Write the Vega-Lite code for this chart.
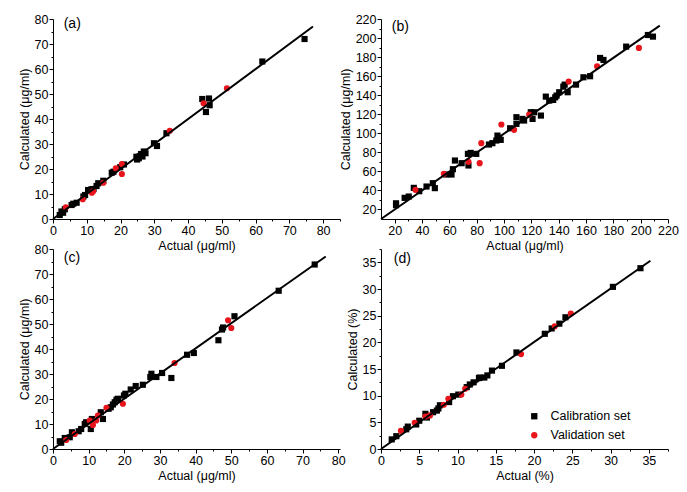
{
  "$schema": "https://vega.github.io/schema/vega-lite/v6.json",
  "padding": {"left": 18, "top": 13, "right": 5, "bottom": 5},
  "background": "white",
  "config": {
    "font": "Liberation Sans",
    "view": {"stroke": null},
    "axis": {
      "grid": false, "domainColor": "#000000", "tickColor": "#000000", "labelColor": "#000000",
      "titleColor": "#000000", "titleFontWeight": "normal", "titleFontSize": 12.5, "labelFontSize": 12.5,
      "tickSize": 4, "labelPadding": 1, "titlePadding": 3, "domainWidth": 1, "tickWidth": 1, "labelFlush": false, "labelOverlap": false
    }
  },
  "datasets": {
    "a": [
      {"actual": 2.0, "calc": 1.6, "set": "Calibration set"},
      {"actual": 2.5, "calc": 3.0, "set": "Calibration set"},
      {"actual": 3.0, "calc": 2.5, "set": "Calibration set"},
      {"actual": 3.5, "calc": 3.9, "set": "Calibration set"},
      {"actual": 5.5, "calc": 5.6, "set": "Calibration set"},
      {"actual": 6.0, "calc": 6.1, "set": "Calibration set"},
      {"actual": 7.0, "calc": 6.5, "set": "Calibration set"},
      {"actual": 9.0, "calc": 9.0, "set": "Calibration set"},
      {"actual": 9.5, "calc": 9.6, "set": "Calibration set"},
      {"actual": 10.4, "calc": 11.6, "set": "Calibration set"},
      {"actual": 11.4, "calc": 11.9, "set": "Calibration set"},
      {"actual": 12.0, "calc": 12.0, "set": "Calibration set"},
      {"actual": 12.9, "calc": 13.2, "set": "Calibration set"},
      {"actual": 13.4, "calc": 14.3, "set": "Calibration set"},
      {"actual": 14.9, "calc": 15.3, "set": "Calibration set"},
      {"actual": 17.4, "calc": 18.5, "set": "Calibration set"},
      {"actual": 17.9, "calc": 18.9, "set": "Calibration set"},
      {"actual": 19.9, "calc": 20.7, "set": "Calibration set"},
      {"actual": 21.0, "calc": 21.8, "set": "Calibration set"},
      {"actual": 24.7, "calc": 24.9, "set": "Calibration set"},
      {"actual": 25.4, "calc": 24.3, "set": "Calibration set"},
      {"actual": 25.7, "calc": 25.2, "set": "Calibration set"},
      {"actual": 26.1, "calc": 26.0, "set": "Calibration set"},
      {"actual": 26.9, "calc": 27.0, "set": "Calibration set"},
      {"actual": 27.4, "calc": 26.3, "set": "Calibration set"},
      {"actual": 24.9, "calc": 23.8, "set": "Calibration set"},
      {"actual": 26.5, "calc": 25.0, "set": "Calibration set"},
      {"actual": 29.9, "calc": 30.3, "set": "Calibration set"},
      {"actual": 30.8, "calc": 29.2, "set": "Calibration set"},
      {"actual": 33.6, "calc": 34.3, "set": "Calibration set"},
      {"actual": 44.2, "calc": 48.0, "set": "Calibration set"},
      {"actual": 46.2, "calc": 48.2, "set": "Calibration set"},
      {"actual": 45.3, "calc": 42.8, "set": "Calibration set"},
      {"actual": 46.4, "calc": 45.5, "set": "Calibration set"},
      {"actual": 62.0, "calc": 63.0, "set": "Calibration set"},
      {"actual": 74.5, "calc": 72.0, "set": "Calibration set"},
      {"actual": 3.8, "calc": 4.7, "set": "Validation set"},
      {"actual": 8.8, "calc": 7.9, "set": "Validation set"},
      {"actual": 11.9, "calc": 11.1, "set": "Validation set"},
      {"actual": 11.5, "calc": 10.5, "set": "Validation set"},
      {"actual": 14.9, "calc": 14.5, "set": "Validation set"},
      {"actual": 18.6, "calc": 20.3, "set": "Validation set"},
      {"actual": 20.4, "calc": 22.0, "set": "Validation set"},
      {"actual": 20.4, "calc": 18.0, "set": "Validation set"},
      {"actual": 34.6, "calc": 35.3, "set": "Validation set"},
      {"actual": 44.6, "calc": 46.3, "set": "Validation set"},
      {"actual": 51.5, "calc": 52.3, "set": "Validation set"}
    ],
    "b": [
      {"actual": 21, "calc": 26.5, "set": "Calibration set"},
      {"actual": 21, "calc": 24.5, "set": "Calibration set"},
      {"actual": 27.3, "calc": 32.2, "set": "Calibration set"},
      {"actual": 30.3, "calc": 33.6, "set": "Calibration set"},
      {"actual": 34, "calc": 42.7, "set": "Calibration set"},
      {"actual": 38, "calc": 39.2, "set": "Calibration set"},
      {"actual": 43.3, "calc": 44.1, "set": "Calibration set"},
      {"actual": 47.9, "calc": 47.6, "set": "Calibration set"},
      {"actual": 49.4, "calc": 42.4, "set": "Calibration set"},
      {"actual": 57.7, "calc": 56.7, "set": "Calibration set"},
      {"actual": 61.6, "calc": 56.7, "set": "Calibration set"},
      {"actual": 62.6, "calc": 62.3, "set": "Calibration set"},
      {"actual": 64.1, "calc": 71.4, "set": "Calibration set"},
      {"actual": 69, "calc": 68.6, "set": "Calibration set"},
      {"actual": 73.6, "calc": 78.4, "set": "Calibration set"},
      {"actual": 75.6, "calc": 79.4, "set": "Calibration set"},
      {"actual": 74, "calc": 66.2, "set": "Calibration set"},
      {"actual": 79.7, "calc": 78.4, "set": "Calibration set"},
      {"actual": 89, "calc": 88.2, "set": "Calibration set"},
      {"actual": 91.5, "calc": 89.6, "set": "Calibration set"},
      {"actual": 94.4, "calc": 92.4, "set": "Calibration set"},
      {"actual": 95.2, "calc": 97.6, "set": "Calibration set"},
      {"actual": 96.4, "calc": 95.2, "set": "Calibration set"},
      {"actual": 97.6, "calc": 93.1, "set": "Calibration set"},
      {"actual": 104.5, "calc": 105.3, "set": "Calibration set"},
      {"actual": 109.1, "calc": 109.9, "set": "Calibration set"},
      {"actual": 109.1, "calc": 116.9, "set": "Calibration set"},
      {"actual": 113.5, "calc": 115.1, "set": "Calibration set"},
      {"actual": 114.7, "calc": 113.4, "set": "Calibration set"},
      {"actual": 119.6, "calc": 122.1, "set": "Calibration set"},
      {"actual": 120.9, "calc": 115.1, "set": "Calibration set"},
      {"actual": 122.1, "calc": 122.1, "set": "Calibration set"},
      {"actual": 127, "calc": 118.6, "set": "Calibration set"},
      {"actual": 130.6, "calc": 138.5, "set": "Calibration set"},
      {"actual": 133.1, "calc": 134.3, "set": "Calibration set"},
      {"actual": 136, "calc": 135, "set": "Calibration set"},
      {"actual": 137.5, "calc": 137.8, "set": "Calibration set"},
      {"actual": 138.5, "calc": 139.6, "set": "Calibration set"},
      {"actual": 140.4, "calc": 143.1, "set": "Calibration set"},
      {"actual": 143.4, "calc": 149, "set": "Calibration set"},
      {"actual": 144.4, "calc": 151.1, "set": "Calibration set"},
      {"actual": 146.6, "calc": 143.1, "set": "Calibration set"},
      {"actual": 152.7, "calc": 151.1, "set": "Calibration set"},
      {"actual": 158.1, "calc": 158.8, "set": "Calibration set"},
      {"actual": 163, "calc": 159.9, "set": "Calibration set"},
      {"actual": 170.3, "calc": 179.1, "set": "Calibration set"},
      {"actual": 172.8, "calc": 177, "set": "Calibration set"},
      {"actual": 189.4, "calc": 191, "set": "Calibration set"},
      {"actual": 205.3, "calc": 203.2, "set": "Calibration set"},
      {"actual": 209, "calc": 201.5, "set": "Calibration set"},
      {"actual": 35.2, "calc": 40.6, "set": "Validation set"},
      {"actual": 56, "calc": 57.4, "set": "Validation set"},
      {"actual": 74, "calc": 70, "set": "Validation set"},
      {"actual": 82.2, "calc": 68.6, "set": "Validation set"},
      {"actual": 83.4, "calc": 89.6, "set": "Validation set"},
      {"actual": 98.1, "calc": 109.2, "set": "Validation set"},
      {"actual": 107.4, "calc": 103.6, "set": "Validation set"},
      {"actual": 118.4, "calc": 119.7, "set": "Validation set"},
      {"actual": 147.3, "calc": 154.3, "set": "Validation set"},
      {"actual": 168.1, "calc": 170.3, "set": "Validation set"},
      {"actual": 198.7, "calc": 189.6, "set": "Validation set"}
    ],
    "c": [
      {"actual": 1.9, "calc": 3.1, "set": "Calibration set"},
      {"actual": 2.3, "calc": 2.5, "set": "Calibration set"},
      {"actual": 3.3, "calc": 4.4, "set": "Calibration set"},
      {"actual": 4.7, "calc": 4.7, "set": "Calibration set"},
      {"actual": 5.3, "calc": 6.7, "set": "Calibration set"},
      {"actual": 7.2, "calc": 7.1, "set": "Calibration set"},
      {"actual": 7.9, "calc": 8.0, "set": "Calibration set"},
      {"actual": 8.9, "calc": 10.0, "set": "Calibration set"},
      {"actual": 9.3, "calc": 10.7, "set": "Calibration set"},
      {"actual": 10.6, "calc": 8.0, "set": "Calibration set"},
      {"actual": 10.9, "calc": 12.0, "set": "Calibration set"},
      {"actual": 13.4, "calc": 14.7, "set": "Calibration set"},
      {"actual": 14.0, "calc": 12.0, "set": "Calibration set"},
      {"actual": 15.6, "calc": 16.1, "set": "Calibration set"},
      {"actual": 16.2, "calc": 16.7, "set": "Calibration set"},
      {"actual": 16.8, "calc": 17.8, "set": "Calibration set"},
      {"actual": 17.3, "calc": 18.7, "set": "Calibration set"},
      {"actual": 17.8, "calc": 19.7, "set": "Calibration set"},
      {"actual": 18.2, "calc": 20.1, "set": "Calibration set"},
      {"actual": 19.9, "calc": 21.4, "set": "Calibration set"},
      {"actual": 20.3, "calc": 22.1, "set": "Calibration set"},
      {"actual": 21.8, "calc": 23.8, "set": "Calibration set"},
      {"actual": 23.2, "calc": 25.2, "set": "Calibration set"},
      {"actual": 25.2, "calc": 25.7, "set": "Calibration set"},
      {"actual": 27.3, "calc": 28.8, "set": "Calibration set"},
      {"actual": 27.6, "calc": 30.1, "set": "Calibration set"},
      {"actual": 29.0, "calc": 28.8, "set": "Calibration set"},
      {"actual": 30.6, "calc": 30.4, "set": "Calibration set"},
      {"actual": 33.2, "calc": 28.4, "set": "Calibration set"},
      {"actual": 37.6, "calc": 37.7, "set": "Calibration set"},
      {"actual": 39.5, "calc": 38.4, "set": "Calibration set"},
      {"actual": 46.4, "calc": 43.5, "set": "Calibration set"},
      {"actual": 47.4, "calc": 47.8, "set": "Calibration set"},
      {"actual": 47.7, "calc": 48.6, "set": "Calibration set"},
      {"actual": 50.9, "calc": 53.1, "set": "Calibration set"},
      {"actual": 63.3, "calc": 63.3, "set": "Calibration set"},
      {"actual": 73.4, "calc": 73.8, "set": "Calibration set"},
      {"actual": 3.7, "calc": 3.6, "set": "Validation set"},
      {"actual": 6.1, "calc": 6.0, "set": "Validation set"},
      {"actual": 10.3, "calc": 11.4, "set": "Validation set"},
      {"actual": 11.2, "calc": 9.6, "set": "Validation set"},
      {"actual": 12.1, "calc": 11.4, "set": "Validation set"},
      {"actual": 12.6, "calc": 13.4, "set": "Validation set"},
      {"actual": 15.0, "calc": 16.5, "set": "Validation set"},
      {"actual": 19.6, "calc": 18.1, "set": "Validation set"},
      {"actual": 34.1, "calc": 34.4, "set": "Validation set"},
      {"actual": 49.1, "calc": 51.5, "set": "Validation set"},
      {"actual": 50.0, "calc": 48.4, "set": "Validation set"}
    ],
    "d": [
      {"actual": 1.4, "calc": 1.8, "set": "Calibration set"},
      {"actual": 2.0, "calc": 2.4, "set": "Calibration set"},
      {"actual": 3.3, "calc": 3.7, "set": "Calibration set"},
      {"actual": 3.5, "calc": 4.2, "set": "Calibration set"},
      {"actual": 4.6, "calc": 4.6, "set": "Calibration set"},
      {"actual": 5.0, "calc": 5.3, "set": "Calibration set"},
      {"actual": 5.8, "calc": 6.6, "set": "Calibration set"},
      {"actual": 6.0, "calc": 5.9, "set": "Calibration set"},
      {"actual": 6.8, "calc": 6.9, "set": "Calibration set"},
      {"actual": 7.3, "calc": 7.2, "set": "Calibration set"},
      {"actual": 7.5, "calc": 7.6, "set": "Calibration set"},
      {"actual": 7.7, "calc": 8.2, "set": "Calibration set"},
      {"actual": 8.9, "calc": 8.8, "set": "Calibration set"},
      {"actual": 9.4, "calc": 9.9, "set": "Calibration set"},
      {"actual": 10.1, "calc": 10.2, "set": "Calibration set"},
      {"actual": 11.2, "calc": 11.6, "set": "Calibration set"},
      {"actual": 11.6, "calc": 12.1, "set": "Calibration set"},
      {"actual": 12.1, "calc": 12.5, "set": "Calibration set"},
      {"actual": 12.8, "calc": 13.3, "set": "Calibration set"},
      {"actual": 12.9, "calc": 13.4, "set": "Calibration set"},
      {"actual": 13.5, "calc": 13.4, "set": "Calibration set"},
      {"actual": 13.9, "calc": 13.8, "set": "Calibration set"},
      {"actual": 14.5, "calc": 14.7, "set": "Calibration set"},
      {"actual": 15.8, "calc": 15.6, "set": "Calibration set"},
      {"actual": 17.7, "calc": 18.1, "set": "Calibration set"},
      {"actual": 21.4, "calc": 21.6, "set": "Calibration set"},
      {"actual": 22.3, "calc": 22.6, "set": "Calibration set"},
      {"actual": 23.3, "calc": 23.5, "set": "Calibration set"},
      {"actual": 24.1, "calc": 24.7, "set": "Calibration set"},
      {"actual": 30.3, "calc": 30.4, "set": "Calibration set"},
      {"actual": 33.9, "calc": 33.9, "set": "Calibration set"},
      {"actual": 2.6, "calc": 3.4, "set": "Validation set"},
      {"actual": 4.4, "calc": 4.9, "set": "Validation set"},
      {"actual": 5.8, "calc": 6.1, "set": "Validation set"},
      {"actual": 6.4, "calc": 6.3, "set": "Validation set"},
      {"actual": 8.2, "calc": 8.3, "set": "Validation set"},
      {"actual": 8.8, "calc": 9.4, "set": "Validation set"},
      {"actual": 10.5, "calc": 10.2, "set": "Validation set"},
      {"actual": 11.0, "calc": 11.3, "set": "Validation set"},
      {"actual": 18.3, "calc": 17.8, "set": "Validation set"},
      {"actual": 22.7, "calc": 23.0, "set": "Validation set"},
      {"actual": 24.8, "calc": 25.4, "set": "Validation set"}
    ],
    "lineA": [{"x": 0, "y": 0}, {"x": 77, "y": 77}],
    "lineB": [{"x": 10, "y": 10}, {"x": 214, "y": 213}],
    "lineC": [{"x": 0, "y": 0}, {"x": 76.5, "y": 77}],
    "lineD": [{"x": 0, "y": 0}, {"x": 35.2, "y": 35.3}],
    "labA": [{"x": 5.7, "y": 78, "t": "(a)"}],
    "labB": [{"x": 24.2, "y": 212, "t": "(b)"}],
    "labC": [{"x": 5.3, "y": 76.5, "t": "(c)"}],
    "labD": [{"x": 2.8, "y": 35.6, "t": "(d)"}]
  },
  "bounds": "flush",
  "columns": 2,
  "spacing": {"row": 30, "column": 41},
  "resolve": {"scale": {"color": "independent", "shape": "independent"}},
  "concat": [
    {
      "width": 287, "height": 200,
      "resolve": {"axis": {"x": "independent", "y": "independent"}},
      "layer": [
        {
          "data": {"name": "a"},
          "mark": {"type": "point", "filled": true, "opacity": 1, "size": 38},
          "encoding": {
            "x": {"field": "actual", "type": "quantitative", "scale": {"domain": [0, 85], "nice": false}, "axis": {"title": "Actual (μg/ml)", "values": [0,10,20,30,40,50,60,70,80]}},
            "y": {"field": "calc", "type": "quantitative", "scale": {"domain": [0, 80], "nice": false}, "axis": {"title": "Calculated (μg/ml)", "values": [0,10,20,30,40,50,60,70,80]}},
            "color": {"field": "set", "type": "nominal", "scale": {"domain": ["Calibration set", "Validation set"], "range": ["#000000", "#e8141c"]}, "legend": null},
            "shape": {"field": "set", "type": "nominal", "scale": {"domain": ["Calibration set", "Validation set"], "range": ["square", "circle"]}, "legend": null}
          }
        },
        {
          "data": {"name": "lineA"},
          "mark": {"type": "line", "color": "#000000", "strokeWidth": 2},
          "encoding": {
            "x": {"field": "x", "type": "quantitative", "scale": {"domain": [0, 85], "nice": false}, "axis": {"orient": "bottom", "values": [5,15,25,35,45,55,65,75,85], "labels": false, "title": null, "domain": false, "tickSize": 2}},
            "y": {"field": "y", "type": "quantitative", "scale": {"domain": [0, 80], "nice": false}, "axis": {"orient": "left", "values": [5,15,25,35,45,55,65,75], "labels": false, "title": null, "domain": false, "tickSize": 2}}
          }
        },
        {
          "data": {"name": "labA"},
          "mark": {"type": "text", "fontSize": 14, "color": "#000000"},
          "encoding": {
            "x": {"field": "x", "type": "quantitative", "scale": {"domain": [0, 85], "nice": false}, "axis": null},
            "y": {"field": "y", "type": "quantitative", "scale": {"domain": [0, 80], "nice": false}, "axis": null},
            "text": {"field": "t"}
          }
        }
      ]
    },
    {
      "width": 287, "height": 200,
      "resolve": {"axis": {"x": "independent", "y": "independent"}},
      "layer": [
        {
          "data": {"name": "b"},
          "mark": {"type": "point", "filled": true, "opacity": 1, "size": 38},
          "encoding": {
            "x": {"field": "actual", "type": "quantitative", "scale": {"domain": [10, 220], "nice": false, "zero": false}, "axis": {"title": "Actual (μg/ml)", "values": [20,40,60,80,100,120,140,160,180,200,220]}},
            "y": {"field": "calc", "type": "quantitative", "scale": {"domain": [10, 220], "nice": false, "zero": false}, "axis": {"title": "Calculated (μg/ml)", "values": [20,40,60,80,100,120,140,160,180,200,220]}},
            "color": {"field": "set", "type": "nominal", "scale": {"domain": ["Calibration set", "Validation set"], "range": ["#000000", "#e8141c"]}, "legend": null},
            "shape": {"field": "set", "type": "nominal", "scale": {"domain": ["Calibration set", "Validation set"], "range": ["square", "circle"]}, "legend": null}
          }
        },
        {
          "data": {"name": "lineB"},
          "mark": {"type": "line", "color": "#000000", "strokeWidth": 2},
          "encoding": {
            "x": {"field": "x", "type": "quantitative", "scale": {"domain": [10, 220], "nice": false, "zero": false}, "axis": {"orient": "bottom", "values": [30,50,70,90,110,130,150,170,190,210], "labels": false, "title": null, "domain": false, "tickSize": 2}},
            "y": {"field": "y", "type": "quantitative", "scale": {"domain": [10, 220], "nice": false, "zero": false}, "axis": {"orient": "left", "values": [30,50,70,90,110,130,150,170,190,210], "labels": false, "title": null, "domain": false, "tickSize": 2}}
          }
        },
        {
          "data": {"name": "labB"},
          "mark": {"type": "text", "fontSize": 14, "color": "#000000"},
          "encoding": {
            "x": {"field": "x", "type": "quantitative", "scale": {"domain": [10, 220], "nice": false, "zero": false}, "axis": null},
            "y": {"field": "y", "type": "quantitative", "scale": {"domain": [10, 220], "nice": false, "zero": false}, "axis": null},
            "text": {"field": "t"}
          }
        }
      ]
    },
    {
      "width": 287, "height": 200,
      "resolve": {"axis": {"x": "independent", "y": "independent"}},
      "layer": [
        {
          "data": {"name": "c"},
          "mark": {"type": "point", "filled": true, "opacity": 1, "size": 38},
          "encoding": {
            "x": {"field": "actual", "type": "quantitative", "scale": {"domain": [0, 80.5], "nice": false}, "axis": {"title": "Actual (μg/ml)", "values": [0,10,20,30,40,50,60,70,80]}},
            "y": {"field": "calc", "type": "quantitative", "scale": {"domain": [0, 80], "nice": false}, "axis": {"title": "Calculated (μg/ml)", "values": [0,10,20,30,40,50,60,70,80]}},
            "color": {"field": "set", "type": "nominal", "scale": {"domain": ["Calibration set", "Validation set"], "range": ["#000000", "#e8141c"]}, "legend": null},
            "shape": {"field": "set", "type": "nominal", "scale": {"domain": ["Calibration set", "Validation set"], "range": ["square", "circle"]}, "legend": null}
          }
        },
        {
          "data": {"name": "lineC"},
          "mark": {"type": "line", "color": "#000000", "strokeWidth": 2},
          "encoding": {
            "x": {"field": "x", "type": "quantitative", "scale": {"domain": [0, 80.5], "nice": false}, "axis": {"orient": "bottom", "values": [5,15,25,35,45,55,65,75], "labels": false, "title": null, "domain": false, "tickSize": 2}},
            "y": {"field": "y", "type": "quantitative", "scale": {"domain": [0, 80], "nice": false}, "axis": {"orient": "left", "values": [5,15,25,35,45,55,65,75], "labels": false, "title": null, "domain": false, "tickSize": 2}}
          }
        },
        {
          "data": {"name": "labC"},
          "mark": {"type": "text", "fontSize": 14, "color": "#000000"},
          "encoding": {
            "x": {"field": "x", "type": "quantitative", "scale": {"domain": [0, 80.5], "nice": false}, "axis": null},
            "y": {"field": "y", "type": "quantitative", "scale": {"domain": [0, 80], "nice": false}, "axis": null},
            "text": {"field": "t"}
          }
        }
      ]
    },
    {
      "width": 287, "height": 200,
      "resolve": {"axis": {"x": "independent", "y": "independent"}},
      "layer": [
        {
          "data": {"name": "d"},
          "mark": {"type": "point", "filled": true, "opacity": 1, "size": 38},
          "encoding": {
            "x": {"field": "actual", "type": "quantitative", "scale": {"domain": [0, 37.5], "nice": false}, "axis": {"title": "Actual (%)", "values": [0,5,10,15,20,25,30,35]}},
            "y": {"field": "calc", "type": "quantitative", "scale": {"domain": [0, 37.5], "nice": false}, "axis": {"title": "Calculated (%)", "values": [0,5,10,15,20,25,30,35]}},
            "color": {"field": "set", "type": "nominal", "scale": {"domain": ["Calibration set", "Validation set"], "range": ["#000000", "#e8141c"]},
              "legend": {"orient": "none", "legendX": 147, "legendY": 161, "title": null, "labelFontSize": 12.5, "labelColor": "#000000", "symbolSize": 40, "rowPadding": 6, "labelOffset": 10, "padding": 0}},
            "shape": {"field": "set", "type": "nominal", "scale": {"domain": ["Calibration set", "Validation set"], "range": ["square", "circle"]},
              "legend": {"orient": "none", "legendX": 147, "legendY": 161, "title": null, "labelFontSize": 12.5, "labelColor": "#000000", "symbolSize": 40, "rowPadding": 6, "labelOffset": 10, "padding": 0}}
          }
        },
        {
          "data": {"name": "lineD"},
          "mark": {"type": "line", "color": "#000000", "strokeWidth": 2},
          "encoding": {
            "x": {"field": "x", "type": "quantitative", "scale": {"domain": [0, 37.5], "nice": false}, "axis": {"orient": "bottom", "values": [2.5,7.5,12.5,17.5,22.5,27.5,32.5,37.5], "labels": false, "title": null, "domain": false, "tickSize": 2}},
            "y": {"field": "y", "type": "quantitative", "scale": {"domain": [0, 37.5], "nice": false}, "axis": {"orient": "left", "values": [2.5,7.5,12.5,17.5,22.5,27.5,32.5,37.5], "labels": false, "title": null, "domain": false, "tickSize": 2}}
          }
        },
        {
          "data": {"name": "labD"},
          "mark": {"type": "text", "fontSize": 14, "color": "#000000"},
          "encoding": {
            "x": {"field": "x", "type": "quantitative", "scale": {"domain": [0, 37.5], "nice": false}, "axis": null},
            "y": {"field": "y", "type": "quantitative", "scale": {"domain": [0, 37.5], "nice": false}, "axis": null},
            "text": {"field": "t"}
          }
        }
      ]
    }
  ]
}
